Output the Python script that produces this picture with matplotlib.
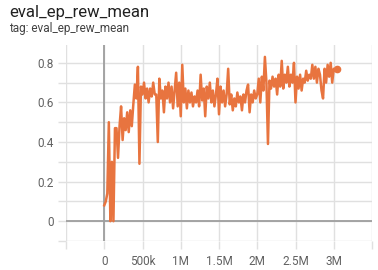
import matplotlib
matplotlib.use("Agg")
import matplotlib.pyplot as plt

plt.rcParams["font.family"] = ["Roboto", "DejaVu Sans"]

TITLE = "eval_ep_rew_mean"
SUBTITLE = "tag: eval_ep_rew_mean"

# eval steps (thousands) and mean episode reward
STEPS_K = [
    0, 20, 40, 60, 80, 100, 120, 140, 160, 180, 200, 220, 240, 260, 280, 300,
    320, 340, 360, 380, 400, 420, 440, 460, 480, 500, 520, 540, 560, 580, 600,
    620, 640, 660, 680, 700, 720, 740, 760, 780, 800, 820, 840, 860, 880, 900,
    920, 940, 960, 980, 1000, 1020, 1040, 1060, 1080, 1100, 1120, 1140, 1160,
    1180, 1200, 1220, 1240, 1260, 1280, 1300, 1320, 1340, 1360, 1380, 1400,
    1420, 1440, 1460, 1480, 1500, 1520, 1540, 1560, 1580, 1600, 1620, 1640,
    1660, 1680, 1700, 1720, 1740, 1760, 1780, 1800, 1820, 1840, 1860, 1880,
    1900, 1920, 1940, 1960, 1980, 2000, 2020, 2040, 2060, 2080, 2100, 2120,
    2140, 2160, 2180, 2200, 2220, 2240, 2260, 2280, 2300, 2320, 2340, 2360,
    2380, 2400, 2420, 2440, 2460, 2480, 2500, 2520, 2540, 2560, 2580, 2600,
    2620, 2640, 2660, 2680, 2700, 2720, 2740, 2760, 2780, 2800, 2820, 2840,
    2860, 2880, 2900, 2920, 2940, 2960, 2980, 3000, 3020, 3040,
]
REWARD = [
    0.08, 0.10, 0.14, 0.50, 0.00, 0.30, 0.00, 0.47, 0.47, 0.32, 0.48, 0.58,
    0.41, 0.52, 0.46, 0.55, 0.45, 0.56, 0.48, 0.59, 0.69, 0.62, 0.78, 0.29,
    0.68, 0.64, 0.70, 0.62, 0.67, 0.60, 0.67, 0.63, 0.70, 0.64, 0.64, 0.40,
    0.72, 0.62, 0.66, 0.55, 0.68, 0.62, 0.70, 0.60, 0.68, 0.57, 0.66, 0.75,
    0.58, 0.70, 0.53, 0.79, 0.60, 0.67, 0.57, 0.66, 0.60, 0.65, 0.58, 0.63,
    0.60, 0.66, 0.58, 0.74, 0.61, 0.67, 0.53, 0.68, 0.62, 0.70, 0.60, 0.66,
    0.58, 0.64, 0.72, 0.54, 0.68, 0.60, 0.66, 0.58, 0.64, 0.77, 0.59, 0.64,
    0.56, 0.62, 0.58, 0.65, 0.60, 0.63, 0.56, 0.64, 0.60, 0.66, 0.69, 0.55,
    0.64, 0.60, 0.66, 0.62, 0.64, 0.72, 0.60, 0.73, 0.66, 0.83, 0.70, 0.39,
    0.71, 0.67, 0.73, 0.68, 0.72, 0.64, 0.74, 0.68, 0.81, 0.67, 0.74, 0.70,
    0.78, 0.68, 0.74, 0.70, 0.80, 0.60, 0.73, 0.67, 0.74, 0.66, 0.72, 0.70,
    0.76, 0.71, 0.74, 0.72, 0.79, 0.72, 0.78, 0.70, 0.77, 0.74, 0.66, 0.62,
    0.77, 0.70, 0.79, 0.73, 0.80, 0.70, 0.77, 0.76, 0.77,
]

X_TICKS = [-500e3, 0, 500e3, 1e6, 1.5e6, 2e6, 2.5e6, 3e6, 3.5e6]
X_LABELS = ["", "0", "500k", "1M", "1.5M", "2M", "2.5M", "3M", ""]
Y_TICKS = [-0.1, 0.0, 0.1, 0.2, 0.3, 0.4, 0.5, 0.6, 0.7, 0.8]
Y_LABELS = ["", "0", "", "0.2", "", "0.4", "", "0.6", "", "0.8"]

LINE = "#e8743f"
GRID = "#e0e0e0"
AXIS0 = "#9e9e9e"
TXT = "#616161"

steps = [s * 1000 for s in STEPS_K]

fig = plt.figure(figsize=(3.78, 2.70), dpi=100)
ax = fig.add_axes([66 / 378, 1 - 241 / 270, 306 / 378, 196 / 270])

fig.text(9 / 378, 1 - 17 / 270, TITLE, fontsize=12, color="#212121")
fig.text(9 / 378, 1 - 32 / 270, SUBTITLE, fontsize=8.5, color="#424242")

ax.set_xlim(-500e3, 3.5e6)
ax.set_ylim(-0.1, 0.89)
ax.set_xticks(X_TICKS)
ax.set_xticklabels(X_LABELS)
ax.set_yticks(Y_TICKS)
ax.set_yticklabels(Y_LABELS)
ax.tick_params(colors=GRID, labelcolor=TXT, labelsize=8.5, length=6, width=1)
ax.tick_params(axis="x", pad=4)
ax.tick_params(axis="y", pad=3)

for s in ax.spines.values():
    s.set_visible(False)
ax.grid(True, color=GRID, lw=1)
ax.axhline(0, color=AXIS0, lw=1.3, zorder=1)
ax.axvline(0, color=AXIS0, lw=1.3, zorder=1)
ax.set_axisbelow(True)

ax.plot(steps, REWARD, color=LINE, lw=1.8, zorder=3, solid_joinstyle="round")
ax.plot(steps[-1:], REWARD[-1:], "o", color=LINE, ms=4.5, zorder=4)

fig.savefig("out.png", dpi=100)
